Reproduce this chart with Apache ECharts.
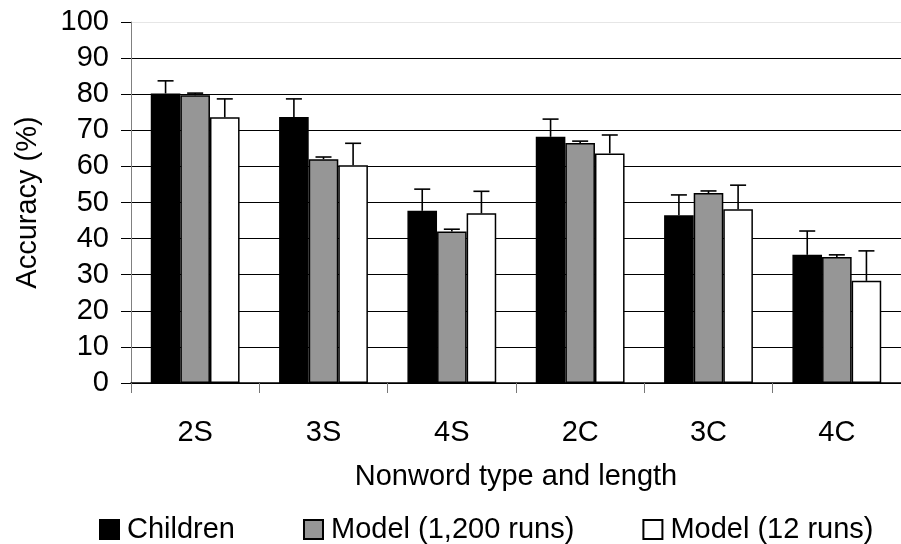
<!DOCTYPE html>
<html>
<head>
<meta charset="utf-8">
<script src="https://cdn.jsdelivr.net/npm/echarts@6/dist/echarts.min.js"></script>
<style>
  html, body { margin: 0; padding: 0; background: #fff; }
  #chart { width: 901px; height: 544px; }
</style>
</head>
<body>
<div id="chart"></div>
<script>
const categories = ['2S', '3S', '4S', '2C', '3C', '4C'];
const children = [80.2, 73.7, 47.7, 68.2, 46.5, 35.5];
const childrenErr = [3.5, 5.0, 6.0, 4.9, 5.6, 6.6];
const model1200 = [79.7, 62.0, 42.0, 66.5, 52.6, 34.9];
const model1200Err = [0.6, 0.6, 0.6, 0.5, 0.6, 0.6];
const model12 = [73.6, 60.3, 47.0, 63.6, 48.1, 28.3];
const model12Err = [5.1, 6.1, 6.1, 5.1, 6.7, 8.3];
const yTicks = [0, 10, 20, 30, 40, 50, 60, 70, 80, 90, 100];

const FONT = "'Liberation Sans', Arial, sans-serif";
const BAR_W = 29.6;

const groups = [
  { name: 'Children', data: children, err: childrenErr, color: '#000000' },
  { name: 'Model (1,200 runs)', data: model1200, err: model1200Err, color: '#969696' },
  { name: 'Model (12 runs)', data: model12, err: model12Err, color: '#ffffff' },
];

// 误差线 (只画上半部分)
function errorSeries(g, idx) {
  return {
    type: 'custom',
    name: g.name + ' err',
    z: 5,
    silent: true,
    data: g.data.map((v, i) => [i, v, v + g.err[i]]),
    renderItem: function (params, api) {
      const p = api.coord([api.value(0), api.value(1)]);
      const t = api.coord([api.value(0), api.value(2)]);
      const x = p[0] + (idx - 1) * BAR_W;
      const style = { stroke: '#000', lineWidth: 1.6 };
      return {
        type: 'group',
        children: [
          { type: 'line', shape: { x1: x, y1: p[1], x2: x, y2: t[1] }, style: style },
          { type: 'line', shape: { x1: x - 8, y1: t[1], x2: x + 8, y2: t[1] }, style: style },
        ],
      };
    },
  };
}

const myChart = echarts.init(document.getElementById('chart'));
const option = {
  animation: false,
  backgroundColor: '#fff',
  textStyle: { fontFamily: FONT },
  grid: { left: 131, top: 22, width: 778, height: 361 },
  legend: {
    data: groups.map(g => g.name),
    left: 94,
    top: 510,
    itemWidth: 19,
    itemHeight: 19,
    itemGap: 68,
    icon: 'rect',
    textStyle: { fontFamily: FONT, fontSize: 29, color: '#000', padding: [0, 0, 0, 3] },
  },
  xAxis: {
    type: 'category',
    data: categories,
    name: 'Nonword type and length',
    nameLocation: 'middle',
    nameGap: 79,
    nameTextStyle: { fontFamily: FONT, fontSize: 29, color: '#000', lineHeight: 29 },
    axisLine: { lineStyle: { color: '#000', width: 1.5 } },
    axisTick: { show: true, length: 10, lineStyle: { color: '#777', width: 1 } },
    axisLabel: { fontFamily: FONT, fontSize: 29, color: '#000', margin: 35, lineHeight: 29 },
  },
  yAxis: {
    type: 'value',
    min: yTicks[0],
    max: yTicks[yTicks.length - 1],
    interval: 10,
    name: 'Accuracy (%)',
    nameLocation: 'middle',
    nameGap: 89,
    nameTextStyle: { fontFamily: FONT, fontSize: 29, color: '#000', lineHeight: 29 },
    axisLine: { show: true, lineStyle: { color: '#808080', width: 1 } },
    axisTick: { show: true, length: 10, lineStyle: { color: '#000', width: 1 } },
    axisLabel: { fontFamily: FONT, fontSize: 29, color: '#000', margin: 22 },
    splitLine: {
      show: true,
      lineStyle: {
        color: yTicks.map(v => (v === 100 ? '#e6e6e6' : '#000')),
        width: 1,
      },
    },
  },
  series: groups.map(g => ({
    type: 'bar',
    name: g.name,
    data: g.data,
    barWidth: BAR_W,
    barGap: '0%',
    itemStyle: { color: g.color, borderColor: '#000', borderWidth: 1.5 },
  })).concat(groups.map(errorSeries)),
};
myChart.setOption(option);
window.onresize = function () {
  myChart.resize();
};
</script>
</body>
</html>
